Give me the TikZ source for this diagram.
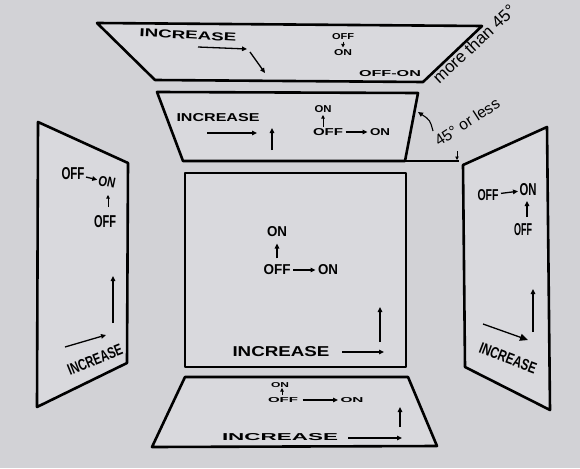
\documentclass[tikz,border=0pt]{standalone}
\usepackage{fontspec}
\setmainfont{Liberation Sans}
\usetikzlibrary{arrows.meta}
\definecolor{bg}{RGB}{210,210,214}
\definecolor{panelfill}{RGB}{217,217,221}
\newcommand{\rz}[3]{\resizebox{#1pt}{#2pt}{\bfseries #3}}
\begin{document}
\begin{tikzpicture}[x=1pt,y=-1pt,
  panel/.style={draw=black, line width=2.6pt, fill=panelfill, line join=round},
  lbl/.style={inner sep=0pt, outer sep=2.5pt, anchor=center},
  arr/.style={line width=1.3pt, -{Triangle[length=5pt,width=4.5pt]}},
  sarr/.style={line width=1pt, -{Triangle[length=3.5pt,width=3.5pt]}},
  barr/.style={line width=1.3pt, -{Triangle[length=8pt,width=7pt]}}]
\fill[bg] (0,0) rectangle (580,468);
\useasboundingbox (0,0) rectangle (580,468);

% panels
\draw[panel] (97,23) -- (482,26) -- (423,82) -- (155,80) -- cycle;
\draw[panel] (157,92) -- (418,93) -- (405,161) -- (183,161) -- cycle;
\draw[panel] (185,173) rectangle (406,367);
\draw[panel] (38,122) -- (128,163) -- (127,363) -- (37,407) -- cycle;
\draw[panel] (463,165) -- (547,127) -- (550,410) -- (465,367) -- cycle;
\draw[panel] (185,377) -- (408,377) -- (437,446) -- (152,447) -- cycle;

% far top panel
\node[lbl, rotate=-3] (t_inc) at (188,35) {\rz{97}{8}{INCREASE}};
\coordinate (t_a1s) at (198,47); \coordinate (t_a1e) at (247,49);
\draw[arr] (t_a1s) -- (t_a1e);
\coordinate (t_a2s) at (250,52); \coordinate (t_a2e) at (265,73);
\draw[arr] (t_a2s) -- (t_a2e);
\node[lbl] (t_off) at (343,37) {\rz{22}{6}{OFF}};
\node[lbl] (t_on) at (343,53) {\rz{18}{6}{ON}};
\draw[sarr, shorten <=-1pt] (t_off) -- (t_on);
\node[lbl] (t_offon) at (390,74) {\rz{62}{6}{OFF-ON}};

% near top panel
\node[lbl] (n_inc) at (218,118) {\rz{83}{8}{INCREASE}};
\coordinate (n_a1s) at (207,133); \coordinate (n_a1e) at (257,133);
\draw[arr] (n_a1s) -- (n_a1e);
\coordinate (n_a2s) at (272,150); \coordinate (n_a2e) at (272,128);
\draw[arr] (n_a2s) -- (n_a2e);
\node[lbl] (n_on1) at (323,109) {\rz{17}{7}{ON}};
\node[lbl] (n_off) at (328,132) {\rz{30}{7}{OFF}};
\node[lbl] (n_on2) at (380,132) {\rz{20}{7}{ON}};
\coordinate (n_a3s) at (323,127); \coordinate (n_a3e) at (323,115);
\draw[sarr] (n_a3s) -- (n_a3e);
\draw[arr] (n_off) -- (n_on2);

% centre panel
\node[lbl] (c_on1) at (277,232) {\rz{20}{10}{ON}};
\node[lbl] (c_off) at (277,270) {\rz{27}{10}{OFF}};
\node[lbl] (c_on2) at (328,270) {\rz{20}{10}{ON}};
\draw[arr, shorten <=4pt, shorten >=4pt] (c_off) -- (c_on1);
\draw[arr] (c_off) -- (c_on2);
\node[lbl] (c_inc) at (281,352) {\rz{97}{10}{INCREASE}};
\coordinate (c_a1s) at (342,352); \coordinate (c_a1e) at (384,352);
\draw[arr] (c_a1s) -- (c_a1e);
\coordinate (c_a2s) at (380,342); \coordinate (c_a2e) at (380,307);
\draw[arr] (c_a2s) -- (c_a2e);

% left panel
\node[lbl] (l_off1) at (73,174) {\rz{23}{12}{OFF}};
\node[lbl, rotate=-12] (l_on) at (107,182) {\rz{17}{10}{ON}};
\draw[arr, shorten <=-1pt, shorten >=-1pt] (l_off1) -- (l_on);
\node[lbl] (l_off2) at (105,222) {\rz{22}{12}{OFF}};
\coordinate (l_a1s) at (108,207); \coordinate (l_a1e) at (108,195);
\draw[sarr] (l_a1s) -- (l_a1e);
\coordinate (l_a2s) at (113,323); \coordinate (l_a2e) at (113,276);
\draw[arr] (l_a2s) -- (l_a2e);
\coordinate (l_a3s) at (65,347); \coordinate (l_a3e) at (106,335);
\draw[arr] (l_a3s) -- (l_a3e);
\node[lbl, rotate=22] (l_inc) at (95,360) {\rz{58}{11}{INCREASE}};

% right panel
\node[lbl] (r_off1) at (488,195) {\rz{21}{11}{OFF}};
\node[lbl] (r_on) at (528,190) {\rz{17}{12}{ON}};
\draw[arr, shorten <=0pt, shorten >=-1pt] (r_off1) -- (r_on);
\node[lbl] (r_off2) at (523,230) {\rz{18}{12}{OFF}};
\coordinate (r_a1s) at (527,217); \coordinate (r_a1e) at (527,201);
\draw[arr] (r_a1s) -- (r_a1e);
\coordinate (r_a2s) at (533,332); \coordinate (r_a2e) at (533,289);
\draw[arr] (r_a2s) -- (r_a2e);
\coordinate (r_a3s) at (483,324); \coordinate (r_a3e) at (528,340);
\draw[barr] (r_a3s) -- (r_a3e);
\node[lbl, rotate=-21] (r_inc) at (508,358) {\rz{60}{11}{INCREASE}};

% bottom panel
\node[lbl] (b_on1) at (280,385) {\rz{18}{5}{ON}};
\node[lbl] (b_off) at (283,400) {\rz{30}{5}{OFF}};
\node[lbl] (b_on2) at (352,400) {\rz{23}{5}{ON}};
\coordinate (b_a1s) at (282,395); \coordinate (b_a1e) at (282,388);
\draw[sarr] (b_a1s) -- (b_a1e);
\draw[arr, shorten <=2pt] (b_off) -- (b_on2);
\node[lbl] (b_inc) at (280,437) {\rz{116}{7}{INCREASE}};
\coordinate (b_a2s) at (348,438); \coordinate (b_a2e) at (402,438);
\draw[arr] (b_a2s) -- (b_a2e);
\coordinate (b_a3s) at (400,427); \coordinate (b_a3e) at (400,407);
\draw[arr] (b_a3s) -- (b_a3e);

% angle annotations
\node[lbl, rotate=43] (more) at (474,44) {\resizebox{106pt}{!}{more than 45\textdegree}};
\node[lbl, rotate=33] (less) at (467,122) {\resizebox{74pt}{!}{45\textdegree\ or less}};
\coordinate (ext_s) at (405,161); \coordinate (ext_e) at (459,161);
\draw[line width=1.4pt] (ext_s) -- (ext_e);
\coordinate (arc_s) at (433,131); \coordinate (arc_c) at (430,120); \coordinate (arc_e) at (418,112);
\draw[arr, line width=1.1pt] (arc_s) .. controls (arc_c) .. (arc_e);
\coordinate (d_s) at (457,151); \coordinate (d_e) at (457,160);
\draw[sarr] (d_s) -- (d_e);
\end{tikzpicture}
\end{document}
